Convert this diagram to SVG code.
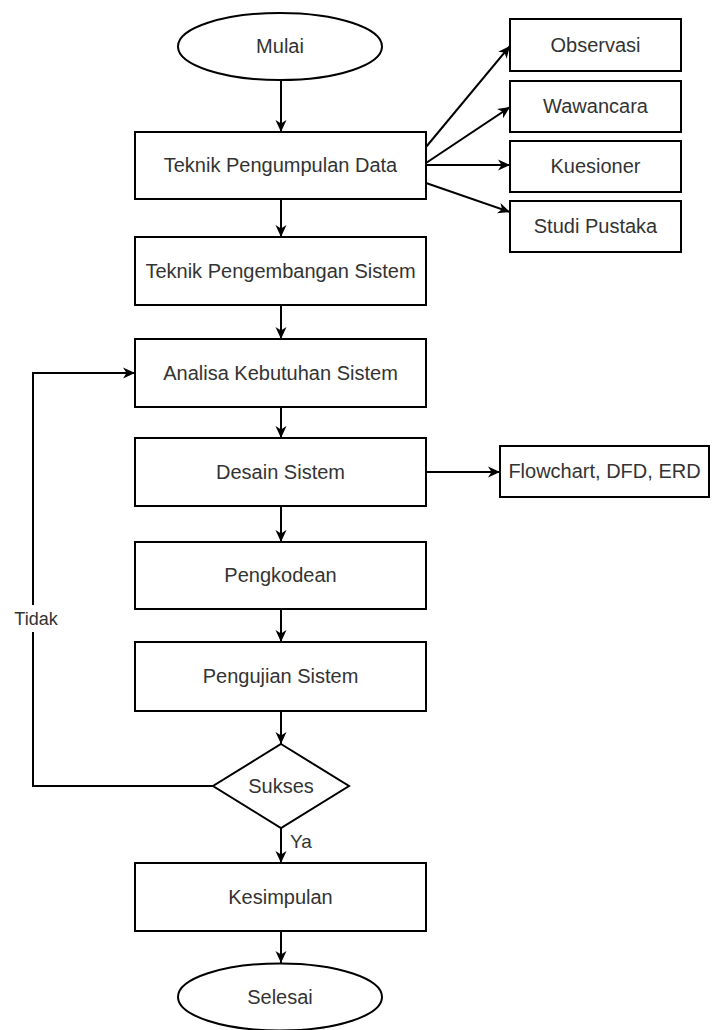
<svg xmlns="http://www.w3.org/2000/svg" width="714" height="1030" viewBox="0 0 714 1030">
<style>
.n{fill:#fff;stroke:#000;stroke-width:2}
.t{font-family:"Liberation Sans",Arial,sans-serif;font-size:20px;fill:#333;text-anchor:middle}
.lbl{font-family:"Liberation Sans",Arial,sans-serif;font-size:18px;fill:#333}
.c{fill:none;stroke:#000;stroke-width:2}
</style>
<defs>
<marker id="arr" markerUnits="userSpaceOnUse" markerWidth="13" markerHeight="13" viewBox="0 0 13 13" refX="12" refY="6.5" orient="auto">
<path d="M0,1 L12,6.5 L0,12 L3.5,6.5 Z" fill="#000"/>
</marker>
</defs>
<rect width="714" height="1030" fill="#fff"/>
<g id="connectors">
<line class="c" x1="281" y1="80" x2="281" y2="132" marker-end="url(#arr)"/>
<line class="c" x1="281" y1="199" x2="281" y2="237" marker-end="url(#arr)"/>
<line class="c" x1="281" y1="305" x2="281" y2="339" marker-end="url(#arr)"/>
<line class="c" x1="281" y1="407" x2="281" y2="438" marker-end="url(#arr)"/>
<line class="c" x1="281" y1="506" x2="281" y2="542" marker-end="url(#arr)"/>
<line class="c" x1="281" y1="609" x2="281" y2="642" marker-end="url(#arr)"/>
<line class="c" x1="281" y1="711" x2="281" y2="744" marker-end="url(#arr)"/>
<line class="c" x1="281" y1="828" x2="281" y2="863" marker-end="url(#arr)"/>
<line class="c" x1="281" y1="931" x2="281" y2="963" marker-end="url(#arr)"/>
<line class="c" x1="426" y1="147" x2="510" y2="46" marker-end="url(#arr)"/>
<line class="c" x1="426" y1="163" x2="510" y2="107" marker-end="url(#arr)"/>
<line class="c" x1="426" y1="165" x2="510" y2="165" marker-end="url(#arr)"/>
<line class="c" x1="426" y1="183" x2="510" y2="212" marker-end="url(#arr)"/>
<line class="c" x1="426" y1="472" x2="500" y2="472" marker-end="url(#arr)"/>
<polyline class="c" points="213,786 33,786 33,373 135,373" marker-end="url(#arr)"/>
<rect x="12" y="605" width="48" height="27" fill="#fff"/>
<text class="lbl" x="36" y="625" text-anchor="middle">Tidak</text>
<text class="lbl" x="290" y="848" style="font-size:19px">Ya</text>
</g>
<g id="mulai"><ellipse class="n" cx="280" cy="46.5" rx="102" ry="33.5"/><text class="t" x="280" y="53">Mulai</text></g>
<g id="pengumpulan"><rect class="n" x="135" y="132" width="291" height="67"/><text class="t" x="280.5" y="172">Teknik Pengumpulan Data</text></g>
<g id="observasi"><rect class="n" x="510" y="19" width="171" height="52"/><text class="t" x="595.5" y="51.5">Observasi</text></g>
<g id="wawancara"><rect class="n" x="510" y="81" width="171" height="51"/><text class="t" x="595.5" y="113">Wawancara</text></g>
<g id="kuesioner"><rect class="n" x="510" y="141" width="171" height="51"/><text class="t" x="595.5" y="173">Kuesioner</text></g>
<g id="studi"><rect class="n" x="510" y="201" width="171" height="51"/><text class="t" x="595.5" y="233">Studi Pustaka</text></g>
<g id="pengembangan"><rect class="n" x="135" y="237" width="291" height="68"/><text class="t" x="280.5" y="277.5">Teknik Pengembangan Sistem</text></g>
<g id="analisa"><rect class="n" x="135" y="339" width="291" height="68"/><text class="t" x="280.5" y="379.5">Analisa Kebutuhan Sistem</text></g>
<g id="desain"><rect class="n" x="135" y="438" width="291" height="68"/><text class="t" x="280.5" y="478.5">Desain Sistem</text></g>
<g id="flowchart"><rect class="n" x="500" y="446" width="209" height="51"/><text class="t" x="604.5" y="478">Flowchart, DFD, ERD</text></g>
<g id="pengkodean"><rect class="n" x="135" y="542" width="291" height="67"/><text class="t" x="280.5" y="582">Pengkodean</text></g>
<g id="pengujian"><rect class="n" x="135" y="642" width="291" height="69"/><text class="t" x="280.5" y="683">Pengujian Sistem</text></g>
<g id="sukses"><polygon class="n" points="281,744 349,786 281,828 213,786"/><text class="t" x="281" y="793">Sukses</text></g>
<g id="kesimpulan"><rect class="n" x="135" y="863" width="291" height="68"/><text class="t" x="280.5" y="903.5">Kesimpulan</text></g>
<g id="selesai"><ellipse class="n" cx="280" cy="997" rx="102" ry="33.5"/><text class="t" x="280" y="1003.5">Selesai</text></g>
</svg>
